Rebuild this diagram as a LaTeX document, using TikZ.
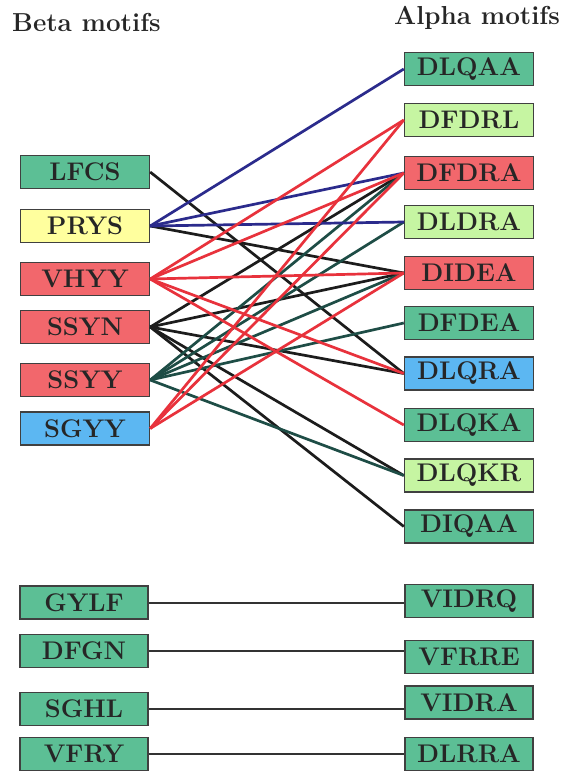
\documentclass[tikz,border=0pt]{standalone}
\usepackage{fontspec}
\definecolor{mgreen}{HTML}{5CBF95}
\definecolor{lgreen}{HTML}{C6F5A2}
\definecolor{mred}{HTML}{F2676C}
\definecolor{myellow}{HTML}{FFFF9E}
\definecolor{mblue}{HTML}{5CB7F2}
\definecolor{lblue}{HTML}{2B2B8C}
\definecolor{lred}{HTML}{E8323C}
\definecolor{lblack}{HTML}{1C1C1C}
\definecolor{lteal}{HTML}{1E4D46}
\begin{document}
\begin{tikzpicture}[x=1pt,y=-1pt,
  box/.style={draw=black!75, line width=1.4pt, minimum width=129pt, minimum height=33pt,
    inner sep=0pt, font=\fontsize{25.5}{25.5}\selectfont\bfseries, text=black!85},
  title/.style={inner sep=0pt, anchor=base west, font=\fontsize{26}{26}\selectfont\bfseries, text=black!85},
  eb/.style={draw=lblue, line width=2.7pt},
  er/.style={draw=lred, line width=2.7pt},
  ek/.style={draw=lblack, line width=2.7pt},
  et/.style={draw=lteal, line width=2.7pt},
  el/.style={draw=black!80, line width=2pt}]
\useasboundingbox (0,0) rectangle (561,771);
\fill[white] (0,0) rectangle (561,771);
% titles
\node[title] (tb) at (12,31.5) {Beta motifs};
\node[title] (ta) at (394,24) {Alpha motifs};
% left boxes
\node[box, fill=mgreen]  (LFCS) at (85,172) {LFCS};
\node[box, fill=myellow] (PRYS) at (85,226) {PRYS};
\node[box, fill=mred]    (VHYY) at (85,279) {VHYY};
\node[box, fill=mred]    (SSYN) at (85,327) {SSYN};
\node[box, fill=mred]    (SSYY) at (85,380) {SSYY};
\node[box, fill=mblue]   (SGYY) at (85,428.5) {SGYY};
% right boxes
\node[box, fill=mgreen] (DLQAA) at (469,69) {DLQAA};
\node[box, fill=lgreen] (DFDRL) at (469,120) {DFDRL};
\node[box, fill=mred]   (DFDRA) at (469,173) {DFDRA};
\node[box, fill=lgreen] (DLDRA) at (469,222) {DLDRA};
\node[box, fill=mred]   (DIDEA) at (469,273) {DIDEA};
\node[box, fill=mgreen] (DFDEA) at (469,323) {DFDEA};
\node[box, fill=mblue]  (DLQRA) at (469,373.5) {DLQRA};
\node[box, fill=mgreen] (DLQKA) at (469,425) {DLQKA};
\node[box, fill=lgreen] (DLQKR) at (469,475.5) {DLQKR};
\node[box, fill=mgreen] (DIQAA) at (469,526.5) {DIQAA};
% bottom boxes
\node[box, fill=mgreen, minimum width=128pt] (GYLF) at (84,602.5) {GYLF};
\node[box, fill=mgreen, minimum width=128pt] (DFGN) at (84,651) {DFGN};
\node[box, fill=mgreen, minimum width=128pt] (SGHL) at (84,709) {SGHL};
\node[box, fill=mgreen, minimum width=128pt] (VFRY) at (84,754) {VFRY};
\node[box, fill=mgreen, minimum width=128pt] (VIDRQ) at (469,601) {VIDRQ};
\node[box, fill=mgreen, minimum width=128pt] (VFRRE) at (469,657) {VFRRE};
\node[box, fill=mgreen, minimum width=128pt] (VIDRA) at (469,702.5) {VIDRA};
\node[box, fill=mgreen, minimum width=128pt] (DLRRA) at (469,754) {DLRRA};
% connectors
\draw[ek] (LFCS.east) -- (DLQRA.west);
\draw[ek] (PRYS.east) -- (DIDEA.west);
\draw[ek] (SSYN.east) -- (DFDRA.west);
\draw[ek] (SSYN.east) -- (DIDEA.west);
\draw[ek] (SSYN.east) -- (DLQRA.west);
\draw[ek] (SSYN.east) -- (DLQKR.west);
\draw[ek] (SSYN.east) -- (DIQAA.west);
\draw[et] (SSYY.east) -- (DFDRA.west);
\draw[et] (SSYY.east) -- (DLDRA.west);
\draw[et] (SSYY.east) -- (DIDEA.west);
\draw[et] (SSYY.east) -- (DFDEA.west);
\draw[et] (SSYY.east) -- (DLQKR.west);
\draw[eb] (PRYS.east) -- (DLQAA.west);
\draw[eb] (PRYS.east) -- (DFDRA.west);
\draw[eb] (PRYS.east) -- (DLDRA.west);
\draw[er] (VHYY.east) -- (DFDRL.west);
\draw[er] (VHYY.east) -- (DFDRA.west);
\draw[er] (VHYY.east) -- (DIDEA.west);
\draw[er] (VHYY.east) -- (DLQRA.west);
\draw[er] (VHYY.east) -- (DLQKA.west);
\draw[er] (SGYY.east) -- (DFDRL.west);
\draw[er] (SGYY.east) -- (DFDRA.west);
\draw[er] (SGYY.east) -- (DIDEA.west);
% bottom connectors
\draw[el] (GYLF.east) -- (GYLF.east -| VIDRQ.west);
\draw[el] (DFGN.east) -- (DFGN.east -| VFRRE.west);
\draw[el] (SGHL.east) -- (SGHL.east -| VIDRA.west);
\draw[el] (VFRY.east) -- (VFRY.east -| DLRRA.west);
\end{tikzpicture}
\end{document}
